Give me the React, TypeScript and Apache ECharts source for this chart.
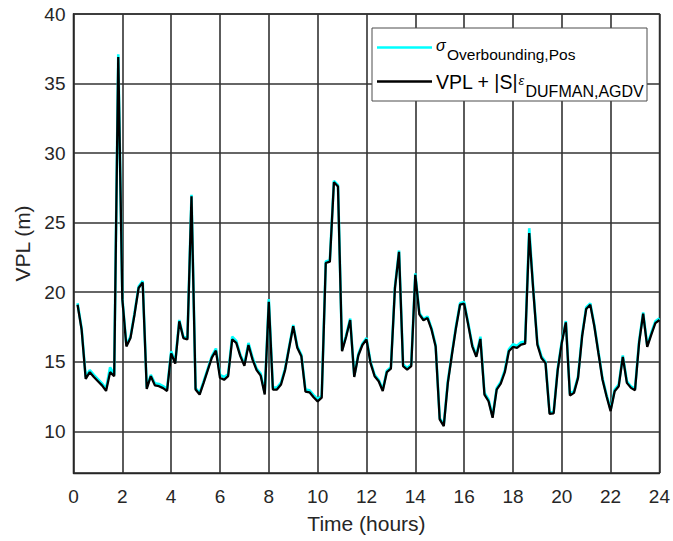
import React, { useEffect, useRef } from 'react';
import * as echarts from 'echarts';

// x axis ticks (hours) and y axis ticks (m)
const xTicks = [0, 2, 4, 6, 8, 10, 12, 14, 16, 18, 20, 22, 24];
const yTicks = [10, 15, 20, 25, 30, 35, 40];

// samples every 10 minutes, from 0:10 to 24:00
const sampleStepHours = 1 / 6;

// VPL + |S| eps_DUFMAN,AGDV (black)
const vplBound = [
  19.1, 17.3, 13.77, 14.25, 13.9, 13.6, 13.3, 12.9, 14.25, 13.96,
  36.9, 19.5, 16.1, 16.7, 18.4, 20.3, 20.7, 13.05, 13.96, 13.3,
  13.24, 13.1, 12.9, 15.6, 14.87, 17.9, 16.7, 16.6, 26.9, 13.0,
  12.64, 13.5, 14.4, 15.3, 15.8, 13.85, 13.7, 13.96, 16.6, 16.35,
  15.4, 14.7, 16.2, 15.15, 14.4, 14.0, 12.64, 19.3, 13.0, 13.0,
  13.36, 14.4, 16.0, 17.55, 16.0, 15.4, 12.85, 12.8, 12.45, 12.15,
  12.42, 22.1, 22.2, 27.9, 27.6, 15.75, 16.8, 18.0, 13.9, 15.45,
  16.2, 16.6, 14.9, 13.96, 13.6, 12.9, 14.25, 14.5, 20.3, 22.9,
  14.68, 14.43, 14.68, 21.25, 18.4, 17.98, 18.14, 17.3, 16.1, 10.85,
  10.37, 13.48, 15.5, 17.43, 19.1, 19.17, 17.67, 16.11, 15.35, 16.64,
  12.64, 12.16, 10.97, 13.0, 13.43, 14.25, 15.75, 16.06, 16.0, 16.23,
  16.3, 24.25, 20.1, 16.23, 15.27, 14.9, 11.25, 11.28, 14.4, 16.35,
  17.83, 12.57, 12.76, 13.84, 16.83, 18.79, 19.1, 17.55, 15.63, 13.72,
  12.52, 11.45, 12.88, 13.24, 15.35, 13.48, 13.12, 12.95, 16.35, 18.45,
  16.06, 16.95, 17.78, 18.0,
];

// sigma_Overbounding,Pos (cyan)
const sigmaOverbound = [
  19.2, 17.4, 13.9, 14.4, 14.05, 13.75, 13.45, 13.05, 14.6, 14.05,
  37.1, 19.6, 16.2, 16.8, 18.5, 20.4, 20.8, 13.15, 14.05, 13.45,
  13.4, 13.25, 13.05, 15.75, 15.0, 18.0, 16.8, 16.7, 27.0, 13.1,
  12.75, 13.6, 14.5, 15.4, 15.95, 14.05, 13.9, 14.1, 16.8, 16.5,
  15.5, 14.85, 16.35, 15.3, 14.5, 14.15, 12.75, 19.5, 13.15, 13.15,
  13.5, 14.5, 16.1, 17.65, 16.1, 15.5, 13.0, 12.95, 12.6, 12.3,
  12.55, 22.2, 22.3, 28.0, 27.7, 15.85, 16.9, 18.1, 14.0, 15.55,
  16.3, 16.7, 15.0, 14.05, 13.7, 13.0, 14.35, 14.6, 20.4, 23.0,
  14.8, 14.55, 14.8, 21.35, 18.5, 18.08, 18.25, 17.4, 16.2, 10.95,
  10.47, 13.6, 15.6, 17.55, 19.2, 19.3, 17.78, 16.22, 15.45, 16.8,
  12.75, 12.28, 11.08, 13.1, 13.55, 14.4, 15.9, 16.25, 16.15, 16.4,
  16.45, 24.6, 20.2, 16.35, 15.4, 15.0, 11.35, 11.38, 14.5, 16.45,
  17.93, 12.7, 12.88, 13.95, 16.95, 18.9, 19.2, 17.65, 15.73, 13.82,
  12.62, 11.55, 13.0, 13.36, 15.45, 13.6, 13.22, 13.05, 16.48, 18.55,
  16.18, 17.08, 17.9, 18.12,
];

const FONT = '"Liberation Sans", Arial, Helvetica, sans-serif';
const AXIS_COLOR = '#262626';
const GRID_COLOR = '#333333';

export default function App() {
  const ref = useRef<HTMLDivElement>(null);

  useEffect(() => {
    if (!ref.current) return;
    const chart = echarts.init(ref.current, null, { renderer: 'svg' });
    const toPairs = (arr: number[]) => arr.map((v, k) => [(k + 1) * sampleStepHours, v]);

    chart.setOption({
      animation: false,
      backgroundColor: '#ffffff',
      grid: {
        left: 73.5,
        right: 10.5,
        top: 14,
        bottom: 68,
        show: true,
        borderColor: AXIS_COLOR,
        borderWidth: 1.3,
        backgroundColor: '#ffffff',
      },
      xAxis: {
        type: 'value',
        min: xTicks[0],
        max: xTicks[xTicks.length - 1],
        interval: 2,
        name: 'Time (hours)',
        nameLocation: 'middle',
        nameGap: 40,
        nameTextStyle: { fontFamily: FONT, fontSize: 21, color: AXIS_COLOR },
        axisLine: { show: true, onZero: false, lineStyle: { color: AXIS_COLOR, width: 1.3 } },
        axisTick: { show: false },
        axisLabel: { fontFamily: FONT, fontSize: 19, color: AXIS_COLOR, margin: 14 },
        splitLine: { show: true, lineStyle: { color: GRID_COLOR, width: 1.6 } },
      },
      yAxis: {
        type: 'value',
        min: 7,
        max: 40,
        name: 'VPL (m)',
        nameLocation: 'middle',
        nameGap: 40,
        nameTextStyle: { fontFamily: FONT, fontSize: 21, color: AXIS_COLOR },
        axisLine: { show: true, onZero: false, lineStyle: { color: AXIS_COLOR, width: 1.3 } },
        axisTick: { show: false, customValues: yTicks },
        axisLabel: { fontFamily: FONT, fontSize: 19, color: AXIS_COLOR, margin: 8, customValues: yTicks },
        splitLine: { show: true, lineStyle: { color: GRID_COLOR, width: 1.6 } },
      },
      series: [
        {
          name: 'sigma',
          type: 'line',
          data: toPairs(sigmaOverbound),
          showSymbol: false,
          symbol: 'none',
          lineStyle: { color: '#00ffff', width: 2.6 },
          z: 2,
        },
        {
          name: 'vpl',
          type: 'line',
          data: toPairs(vplBound),
          showSymbol: false,
          symbol: 'none',
          lineStyle: { color: '#000000', width: 2.3 },
          z: 3,
        },
      ],
      graphic: [
        {
          type: 'rect',
          z: 100,
          shape: { x: 372, y: 28, width: 275, height: 73 },
          style: { fill: '#ffffff', stroke: '#4d4d4d', lineWidth: 1 },
        },
        {
          type: 'line',
          z: 101,
          shape: { x1: 377, y1: 47.5, x2: 432, y2: 47.5 },
          style: { stroke: '#00ffff', lineWidth: 2.6 },
        },
        {
          type: 'line',
          z: 101,
          shape: { x1: 377, y1: 81.5, x2: 432, y2: 81.5 },
          style: { stroke: '#000000', lineWidth: 2.3 },
        },
        {
          type: 'text',
          z: 101,
          x: 436,
          y: 45,
          style: { text: 'σ', fontFamily: FONT, fontSize: 16, fontStyle: 'italic', fill: '#000', align: 'left', verticalAlign: 'middle' },
        },
        {
          type: 'text',
          z: 101,
          x: 447,
          y: 54,
          style: { text: 'Overbounding,Pos', fontFamily: FONT, fontSize: 15.5, fill: '#000', align: 'left', verticalAlign: 'middle' },
        },
        {
          type: 'text',
          z: 101,
          x: 436,
          y: 81.5,
          style: { text: 'VPL + |S|', fontFamily: FONT, fontSize: 19.5, fill: '#000', align: 'left', verticalAlign: 'middle' },
        },
        {
          type: 'text',
          z: 101,
          x: 518.5,
          y: 80.5,
          style: { text: 'ε', fontFamily: FONT, fontSize: 13, fontStyle: 'italic', fill: '#000', align: 'left', verticalAlign: 'middle' },
        },
        {
          type: 'text',
          z: 101,
          x: 525.5,
          y: 91.5,
          style: { text: 'DUFMAN,AGDV', fontFamily: FONT, fontSize: 16, fill: '#000', align: 'left', verticalAlign: 'middle' },
        },
      ],
    });

    return () => chart.dispose();
  }, []);

  return (
    <div
      ref={ref}
      style={{ position: 'fixed', left: 0, top: 0, width: 673, height: 541, background: '#ffffff' }}
    />
  );
}
